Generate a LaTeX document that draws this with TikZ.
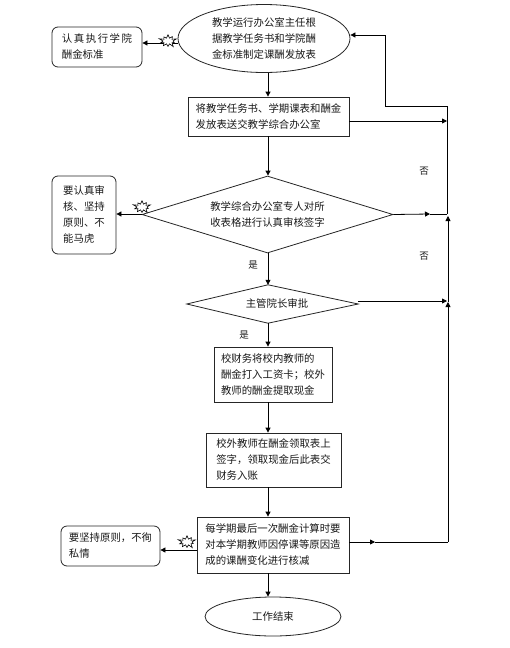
\documentclass[tikz,border=0pt]{standalone}
\usepackage{fontspec}
\setmainfont{Noto Sans CJK SC}
\usetikzlibrary{arrows.meta,shapes.geometric,shapes.symbols}
\tikzset{
  every node/.style={font=\fontsize{10.4}{16}\selectfont,text=black!90,align=left,inner sep=0pt},
  link/.style={draw=black,line width=0.8pt},
  arrowlink/.style={link,-{Triangle[length=5pt,width=5pt]}},
  shapeline/.style={draw=black!85,line width=0.8pt,fill=white},
  rectbox/.style={shapeline,rectangle},
  softbox/.style={shapeline,rectangle,rounded corners=6pt},
  oval/.style={shapeline,ellipse},
  decision/.style={shapeline,diamond},
  burst/.style={draw=black,line width=0.6pt,fill=white,starburst,starburst points=10,starburst point height=4.5pt,minimum width=19pt,minimum height=15pt,inner sep=0pt},
  tag/.style={font=\fontsize{9.5}{12}\selectfont},
}
\begin{document}
\begin{tikzpicture}[x=1pt,y=-1pt]
\useasboundingbox[fill=white] (0,0) rectangle (510,648);
\coordinate (spine) at (268,0);

\node[oval,minimum width=172pt,minimum height=68pt] (start) at (264,38.5) {教学运行办公室主任根\\据教学任务书和学院酬\\金标准制定课酬发放表};
\node[rectbox,minimum width=161pt,minimum height=39pt] (send) at (268.5,116.5) {将教学任务书、学期课表和酬金\\发放表送交教学综合办公室};
\node[decision,aspect=3.26,minimum width=251pt,minimum height=77pt] (check) at (267.5,214.5) {教学综合办公室专人对所\\收表格进行认真审核签字};
\node[minimum width=171pt,minimum height=38pt] (dean) at (272.5,304) {};
\draw[shapeline] (dean.west) -- (dean.north -| spine) -- (dean.east) -- (dean.south -| spine) -- cycle;
\node (deanText) at (277,304) {主管院长审批};
\node[rectbox,minimum width=118pt,minimum height=55pt] (pay) at (273,374.5) {校财务将校内教师的\\酬金打入工资卡；校外\\教师的酬金提取现金};
\node[rectbox,minimum width=135pt,minimum height=54pt] (sign) at (273.5,460) {校外教师在酬金领取表上\\签字，领取现金后此表交\\财务入账};
\node[rectbox,minimum width=152pt,minimum height=56pt] (final) at (273,545) {每学期最后一次酬金计算时要\\对本学期教师因停课等原因造\\成的课酬变化进行核减};
\node[oval,minimum width=136pt,minimum height=39pt] (end) at (273,616.5) {工作结束};
\node[softbox,minimum width=90pt,minimum height=40pt] (noteA) at (97,47) {{\addfontfeature{LetterSpace=15}认真执行学院}\\酬金标准};
\node[softbox,minimum width=64pt,minimum height=78pt] (noteB) at (84,215) {要认真审\\核、坚持\\原则、不\\能马虎};
\node[softbox,minimum width=99pt,minimum height=40pt] (noteC) at (110.5,546) {要坚持原则，不徇\\私情};

\coordinate (a0) at (178,43);
\coordinate (b0) at (142,214);
\coordinate (c0) at (197,550);
\draw[arrowlink] (a0) -- (a0 -| noteA.east);
\draw[arrowlink] (b0) -- (b0 -| noteB.east);
\draw[arrowlink] (c0) -- (c0 -| noteC.east);
\node[burst] (burstA) at (168,41) {};
\node[burst] (burstB) at (142,207) {};
\node[burst] (burstC) at (187,542) {};

\draw[arrowlink] (start.south -| spine) -- (send.north -| spine);
\draw[arrowlink] (send.south -| spine) -- (check.north -| spine);
\draw[arrowlink] (check.south -| spine) -- (dean.north -| spine);
\draw[arrowlink] (dean.south -| spine) -- (pay.north -| spine);
\draw[arrowlink] (pay.south -| spine) -- (sign.north -| spine);
\draw[arrowlink] (sign.south -| spine) -- (final.north -| spine);
\draw[arrowlink] (final.south -| spine) -- (end.north -| spine);

\coordinate (railA) at (447,106);
\coordinate (back) at (385,35);
\coordinate (j1) at (447,214);
\coordinate (m1) at (430,214);
\coordinate (j2) at (447,121);
\coordinate (j3) at (447,301);
\coordinate (railB) at (448,216);
\coordinate (railM) at (448,302);
\coordinate (railC) at (448,542);
\coordinate (m2) at (375,542);
\draw[arrowlink] (j1) -- (railA) -- (railA -| back) -- (back) -- (back -| start.east);
\draw[arrowlink] (send.east |- j2) -- (j2);
\draw[arrowlink] (check.east) -- (m1);
\draw[link] (m1) -- (j1);
\draw[arrowlink] (dean.east |- j3) -- (j3);
\draw[arrowlink] (final.east |- m2) -- (m2);
\draw[link] (m2) -- (railC);
\draw[arrowlink] (railC) -- (railM);
\draw[arrowlink] (railM) -- (railB);

\node[tag] (no1) at (424,171) {否};
\node[tag] (no2) at (424,256) {否};
\node[tag] (yes1) at (253,265) {是};
\node[tag] (yes2) at (244,335) {是};
\end{tikzpicture}
\end{document}
